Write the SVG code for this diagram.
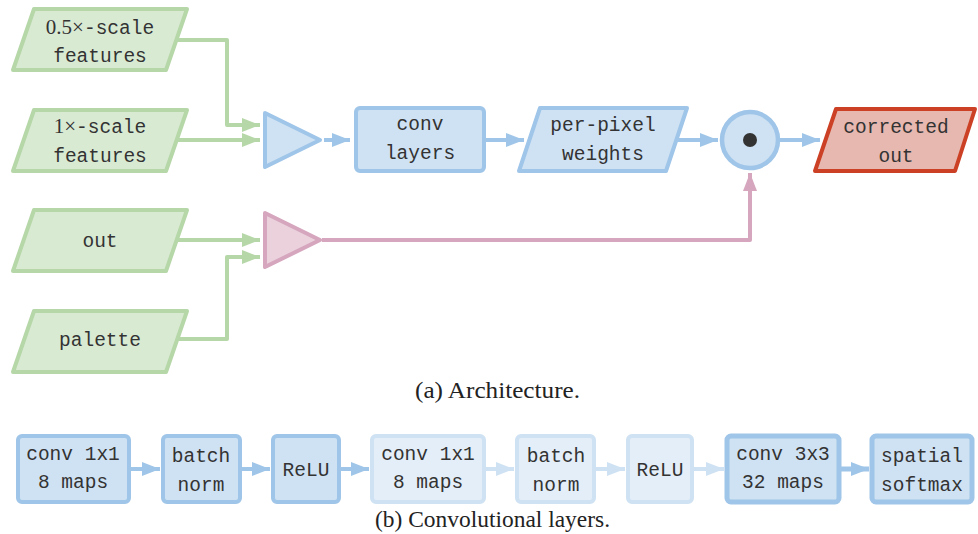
<svg xmlns="http://www.w3.org/2000/svg" width="978" height="534" viewBox="0 0 978 534">
<style>
text{font-family:"Liberation Mono","DejaVu Sans Mono",monospace;font-size:19.5px;fill:#333;text-anchor:middle}
.m{font-family:"Liberation Serif","DejaVu Serif",serif;font-size:21px}
.cap{font-family:"Liberation Serif","DejaVu Serif",serif;font-size:23px;fill:#222}
.g{fill:#d9ead3;stroke:#b6d7a8;stroke-width:4;stroke-linejoin:round}
.b{fill:#cfe2f3;stroke:#9fc5e8;stroke-width:4;stroke-linejoin:round}
.bl{fill:#e4eef8;stroke:#cfe2f3;stroke-width:4;stroke-linejoin:round}
.p{fill:#ead1dc;stroke:#d5a6bd;stroke-width:4;stroke-linejoin:round}
.r{fill:#e6b8af;stroke:#cc4125;stroke-width:4;stroke-linejoin:round}
.cg{fill:none;stroke:#b6d7a8;stroke-width:4;stroke-linejoin:round;marker-end:url(#ag)}
.cb{fill:none;stroke:#9fc5e8;stroke-width:4;marker-end:url(#ab)}
.cl{fill:none;stroke:#cfe2f3;stroke-width:4;marker-end:url(#al)}
.cp{fill:none;stroke:#d5a6bd;stroke-width:4;stroke-linejoin:round;marker-end:url(#ap)}
</style>
<defs>
<marker id="ag" markerUnits="userSpaceOnUse" markerWidth="18" markerHeight="14" refX="18" refY="7" orient="auto"><path d="M0,0 L18,7 L0,14 z" fill="#b6d7a8"/></marker>
<marker id="ab" markerUnits="userSpaceOnUse" markerWidth="18" markerHeight="14" refX="18" refY="7" orient="auto"><path d="M0,0 L18,7 L0,14 z" fill="#9fc5e8"/></marker>
<marker id="al" markerUnits="userSpaceOnUse" markerWidth="18" markerHeight="14" refX="18" refY="7" orient="auto"><path d="M0,0 L18,7 L0,14 z" fill="#cfe2f3"/></marker>
<marker id="ap" markerUnits="userSpaceOnUse" markerWidth="18" markerHeight="14" refX="18" refY="7" orient="auto"><path d="M0,0 L18,7 L0,14 z" fill="#d5a6bd"/></marker>
</defs>

<g id="connectors">
<path class="cg" d="M172,40 H227 V125 H260"/>
<path class="cg" d="M172,140 H260"/>
<path class="cg" d="M172,240 H260"/>
<path class="cg" d="M172,339 H227 V257 H260"/>
<path class="cb" d="M324,140 H350"/>
<path class="cb" d="M485,140 H524"/>
<path class="cb" d="M677,140 H718"/>
<path class="cb" d="M780,140 H820"/>
<path class="cp" d="M322,240 H750 V173"/>
<path class="cb" d="M130,469 H160"/>
<path class="cb" d="M241,469 H270"/>
<path class="cb" d="M340,469 H369"/>
<path class="cl" d="M485,469 H514"/>
<path class="cl" d="M595,469 H625"/>
<path class="cl" d="M693,469 H724"/>
<path class="cb" style="stroke-width:5" d="M840,469 H869"/>
</g>

<g id="n-half">
<path class="g" d="M34,9 H187 L166,70 H13 Z"/>
<text x="100" y="34"><tspan class="m">0.5×</tspan>-scale</text>
<text x="100" y="62">features</text>
</g>
<g id="n-one">
<path class="g" d="M34,110 H187 L166,171 H13 Z"/>
<text x="100" y="133"><tspan class="m">1×</tspan>-scale</text>
<text x="100" y="162">features</text>
</g>
<g id="n-out">
<path class="g" d="M34,210 H187 L166,271 H13 Z"/>
<text x="100" y="247">out</text>
</g>
<g id="n-palette">
<path class="g" d="M34,311 H187 L166,372 H13 Z"/>
<text x="100" y="346">palette</text>
</g>
<g id="n-concat1">
<path class="b" d="M265,113 L320,140 L265,167 Z"/>
</g>
<g id="n-concat2">
<path class="p" d="M265,213 L320,240 L265,267 Z"/>
</g>
<g id="n-conv">
<rect class="b" x="356" y="108" width="128" height="63" rx="4"/>
<text x="420" y="130">conv</text>
<text x="420" y="159">layers</text>
</g>
<g id="n-weights">
<path class="b" d="M540,108 H687 L666,171 H519 Z"/>
<text x="603" y="131">per-pixel</text>
<text x="603" y="160">weights</text>
</g>
<g id="n-dot">
<circle cx="750" cy="140" r="28" fill="#cfe2f3" stroke="#9fc5e8" stroke-width="4.5"/>
<circle cx="750" cy="140" r="7" fill="#333"/>
</g>
<g id="n-corrected">
<path class="r" d="M836,109 H975 L955,171 H815 Z"/>
<text x="896" y="133">corrected</text>
<text x="896" y="162">out</text>
</g>

<text class="cap" x="497.5" y="398" textLength="165" lengthAdjust="spacingAndGlyphs">(a) Architecture.</text>

<g id="b1"><rect class="b" x="18" y="436" width="111" height="66" rx="4"/><text x="73" y="460">conv 1x1</text><text x="73" y="488">8 maps</text></g>
<g id="b2"><rect class="b" x="163" y="436" width="77" height="66" rx="4"/><text x="201" y="462">batch</text><text x="201" y="491">norm</text></g>
<g id="b3"><rect class="b" x="273" y="436" width="66" height="66" rx="4"/><text x="306" y="476">ReLU</text></g>
<g id="b4"><rect class="bl" x="372" y="436" width="112" height="66" rx="4"/><text x="428" y="460">conv 1x1</text><text x="428" y="488">8 maps</text></g>
<g id="b5"><rect class="bl" x="517" y="436" width="77" height="66" rx="4"/><text x="556" y="462">batch</text><text x="556" y="491">norm</text></g>
<g id="b6"><rect class="bl" x="628" y="436" width="64" height="66" rx="4"/><text x="660" y="476">ReLU</text></g>
<g id="b7"><rect class="b" style="stroke-width:5" x="727" y="436" width="112" height="66" rx="4"/><text x="783" y="460">conv 3x3</text><text x="783" y="488">32 maps</text></g>
<g id="b8"><rect class="b" style="stroke-width:5" x="872" y="436" width="100" height="66" rx="4"/><text x="922" y="462">spatial</text><text x="922" y="491">softmax</text></g>

<text class="cap" x="492.5" y="527" textLength="235" lengthAdjust="spacingAndGlyphs">(b) Convolutional layers.</text>
</svg>
